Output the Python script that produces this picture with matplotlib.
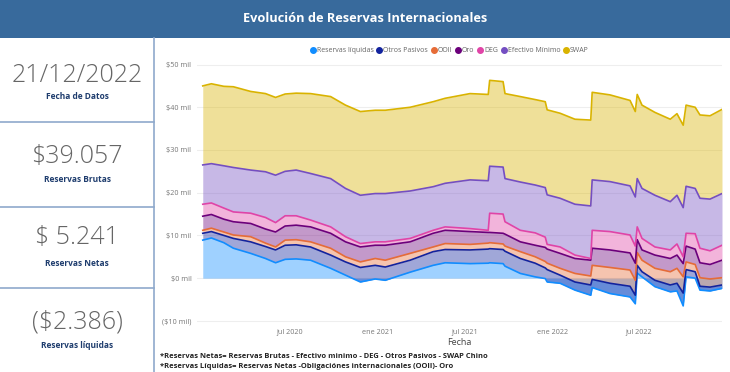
import numpy as np
import matplotlib
matplotlib.use("Agg")
import matplotlib.pyplot as plt
from matplotlib.lines import Line2D
from matplotlib.patches import Rectangle

# valores en miles de millones de USD (componentes apiladas)
fechas = np.array([
    "2020-01-02", "2020-01-20", "2020-02-15", "2020-03-06", "2020-04-11", "2020-05-12",
    "2020-06-02", "2020-06-22", "2020-07-15", "2020-08-14", "2020-09-25", "2020-10-26",
    "2020-11-26", "2020-12-27", "2021-01-17", "2021-03-10", "2021-04-27", "2021-05-22",
    "2021-07-13", "2021-08-20", "2021-08-23", "2021-09-20", "2021-09-24", "2021-10-26",
    "2021-11-26", "2021-12-17", "2021-12-21", "2022-01-17", "2022-02-17", "2022-03-22",
    "2022-03-25", "2022-05-01", "2022-06-12", "2022-06-23", "2022-06-27", "2022-07-07",
    "2022-08-03", "2022-09-04", "2022-09-18", "2022-10-01", "2022-10-07", "2022-10-26",
    "2022-11-05", "2022-11-26", "2022-12-21"], dtype="datetime64[D]")

reservas_liquidas = [8.9, 9.4, 8.3, 7.0, 5.8, 4.6, 3.6, 4.4, 4.5, 4.2, 2.3, 0.7,
                     -0.9, -0.2, -0.5, 1.4, 3.0, 3.6, 3.4, 3.5, 3.6, 3.4, 2.8, 1.1,
                     0.3, -0.1, -0.9, -1.2, -2.8, -4.0, -2.2, -3.6, -4.4, -6.0, 1.2, 0.3,
                     -2.0, -3.2, -3.0, -6.5, 0.3, 0.0, -2.8, -3.0, -2.4]
otros_pasivos = [1.6, 1.5, 1.7, 2.3, 2.7, 2.8, 3.0, 3.3, 3.3, 3.1, 3.1, 3.1,
                 3.4, 3.2, 3.1, 2.8, 3.2, 3.1, 3.2, 3.3, 3.3, 3.3, 3.5, 3.5,
                 3.2, 2.5, 2.9, 1.9, 1.9, 2.4, 1.9, 2.4, 2.5, 2.0, 1.8, 1.2,
                 1.5, 1.6, 1.8, 3.0, 1.7, 1.5, 0.9, 0.9, 0.8]
ooii = [0.7, 0.8, 0.8, 0.8, 1.2, 0.8, 0.7, 1.2, 1.2, 1.2, 1.6, 1.2,
        1.3, 1.6, 1.6, 1.6, 1.1, 1.4, 1.3, 1.4, 1.4, 1.3, 1.2, 1.6,
        1.5, 1.5, 1.5, 1.6, 2.0, 2.1, 3.3, 3.7, 3.8, 3.5, 3.0, 2.7,
        2.8, 3.1, 3.5, 3.8, 1.8, 1.7, 2.0, 1.9, 1.7]
oro = [3.3, 3.2, 3.0, 3.1, 3.1, 3.3, 3.5, 3.3, 3.4, 3.5, 3.5, 3.5,
       3.5, 3.1, 3.5, 2.7, 3.2, 3.1, 3.0, 2.5, 2.4, 2.5, 2.8, 2.3,
       2.7, 3.3, 3.3, 3.5, 3.5, 3.7, 4.0, 4.1, 4.0, 4.0, 3.0, 2.4,
       3.1, 3.1, 3.1, 3.1, 3.7, 3.6, 3.5, 3.4, 4.1]
deg = [2.8, 2.7, 2.6, 2.3, 2.4, 2.7, 2.2, 2.4, 2.2, 1.6, 1.5, 1.2,
       0.8, 0.8, 0.8, 0.8, 0.7, 0.8, 0.7, 0.5, 4.5, 4.5, 2.9, 2.7,
       2.9, 2.4, 1.1, 1.5, 0.8, 0.4, 4.2, 4.3, 4.2, 4.0, 3.0, 2.7,
       1.9, 2.0, 2.6, 1.6, 3.0, 3.6, 3.4, 3.2, 3.5]
efectivo_minimo = [9.2, 9.2, 9.9, 10.4, 10.1, 10.7, 11.1, 10.4, 10.7, 10.9, 11.3, 11.3,
                   11.3, 11.3, 11.3, 11.1, 10.2, 10.2, 11.4, 11.6, 11.0, 11.0, 10.1, 11.3,
                   11.2, 11.6, 11.6, 11.4, 11.9, 12.3, 11.8, 11.7, 11.5, 11.5, 11.3, 11.7,
                   12.1, 11.3, 11.4, 11.5, 11.0, 10.6, 11.7, 12.1, 12.1]
swap = [18.5, 18.7, 18.6, 18.9, 18.4, 18.3, 18.2, 18.1, 18.0, 18.7, 19.2, 19.5,
        19.6, 19.5, 19.5, 19.6, 19.9, 19.9, 20.2, 20.2, 20.1, 20.0, 19.9, 20.0,
        20.0, 20.1, 19.9, 19.9, 19.9, 20.1, 20.5, 20.3, 20.0, 20.0, 19.7, 19.5,
        19.4, 19.3, 19.1, 19.3, 19.0, 19.0, 19.5, 19.5, 19.7]

series = ["Reservas líquidas", "Otros Pasivos", "OOII", "Oro", "DEG", "Efectivo Mínimo", "SWAP"]
colores = ["#118DFF", "#12239E", "#E66C37", "#6B007B", "#E044A7", "#744EC2", "#D9B300"]

y_ticks = [-10, 0, 10, 20, 30, 40, 50]
y_labels = ["($10 mil)", "$0 mil", "$10 mil", "$20 mil", "$30 mil", "$40 mil", "$50 mil"]
x_ticks = np.array(["2020-07-01", "2021-01-01", "2021-07-01", "2022-01-01", "2022-07-01"], dtype="datetime64[D]")
x_labels = ["jul 2020", "ene 2021", "jul 2021", "ene 2022", "jul 2022"]

tarjetas = [("21/12/2022", "Fecha de Datos"), ("$39.057", "Reservas Brutas"),
            ("$ 5.241", "Reservas Netas"), ("($2.386)", "Reservas líquidas")]

W, H = 730, 372
def fx(px):
    return px / W
def fy(py):
    return 1 - py / H

plt.rcParams['font.family'] = ['Open Sans', 'DejaVu Sans']
fig = plt.figure(figsize=(W / 100, H / 100), dpi=100)
fig.patch.set_facecolor('white')

# barra de titulo
fig.patches.append(Rectangle((0, fy(38)), 1, 38 / H, transform=fig.transFigure,
                             facecolor='#386a9c', edgecolor='none'))
fig.text(0.5, fy(19), "Evolución de Reservas Internacionales", color='white',
         fontsize=9.2, fontweight='bold', ha='center', va='center')

# tarjetas de la izquierda
sep = '#8fa9cc'
fig.add_artist(Line2D([fx(154), fx(154)], [fy(38), 0], color=sep, lw=1.2))
for py in [122, 207, 288]:
    fig.add_artist(Line2D([0, fx(154)], [fy(py), fy(py)], color=sep, lw=1.2))
num_y = [75, 156, 238, 322]
lab_y = [96.5, 180, 263, 346]
for (valor, etiqueta), ny, ly in zip(tarjetas, num_y, lab_y):
    fig.text(fx(77), fy(ny), valor, fontsize=18, color='#666666', ha='center', va='center',
             fontweight='light')
    fig.text(fx(77), fy(ly), etiqueta, fontsize=6, color='#1f3d6e', ha='center', va='center',
             fontweight='bold')

# grafico de areas apiladas
ax = fig.add_axes([fx(197), fy(323), fx(722) - fx(197), fy(56) - fy(323)])
valores = np.array([reservas_liquidas, otros_pasivos, ooii, oro, deg, efectivo_minimo, swap])
acum = np.cumsum(valores, axis=0)
base = np.zeros(len(fechas))
for i in range(len(series)):
    ax.fill_between(fechas, base, acum[i], color=colores[i], alpha=0.4, lw=0)
    base = acum[i]
for i in range(len(series)):
    ax.plot(fechas, acum[i], color=colores[i], lw=1.2)

ax.set_xlim(fechas[0] - np.timedelta64(12, 'D'), fechas[-1])
ax.set_ylim(-10.5, 52)
ax.set_yticks(y_ticks)
ax.set_yticklabels(y_labels)
ax.set_xticks(x_ticks)
ax.set_xticklabels(x_labels)
ax.tick_params(length=0, labelsize=5.2, labelcolor='#777777', pad=4)
ax.grid(axis='y', color='#eeeeee', lw=0.8)
ax.set_axisbelow(True)
for s in ax.spines.values():
    s.set_visible(False)
ax.set_xlabel("Fecha", fontsize=6.5, color='#444444', labelpad=2)

handles = [Line2D([], [], marker='o', ls='', color=c, markersize=4) for c in colores]
fig.legend(handles, series, loc='center', bbox_to_anchor=(fx(449), fy(51)), ncol=7,
           frameon=False, fontsize=5.0, labelcolor='#666666', handletextpad=0.05,
           columnspacing=0.35, handlelength=1.0, borderpad=0)

fig.text(fx(160), fy(356), "*Reservas Netas= Reservas Brutas - Efectivo minimo - DEG - Otros Pasivos - SWAP Chino",
         fontsize=5.4, fontweight='bold', color='#222222', ha='left', va='center')
fig.text(fx(160), fy(367), "*Reservas Líquidas= Reservas Netas -Obligaciónes internacionales (OOII)- Oro",
         fontsize=5.4, fontweight='bold', color='#222222', ha='left', va='center')

fig.savefig("out.png", dpi=100)
